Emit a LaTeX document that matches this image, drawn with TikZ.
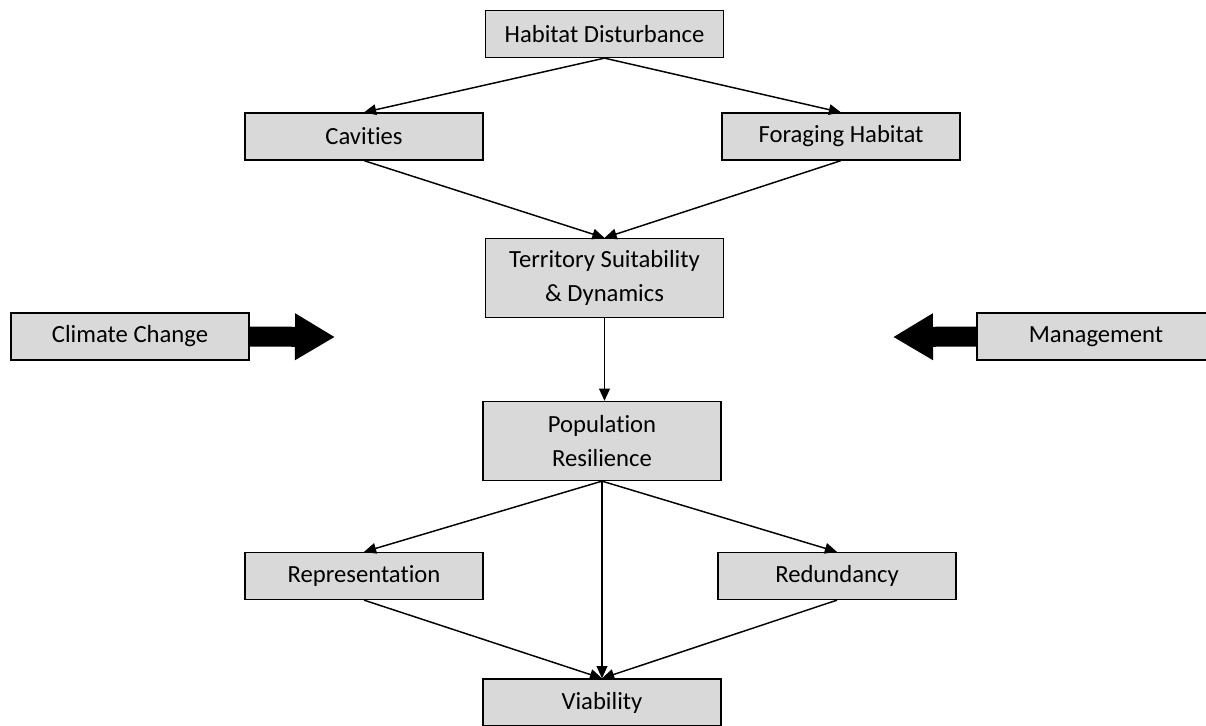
\documentclass[tikz,border=0pt]{standalone}
\usepackage{fontspec}
\setmainfont{Carlito}[Ligatures=NoCommon]
\usetikzlibrary{arrows.meta}

\begin{document}
\begin{tikzpicture}[x=0.75pt,y=-0.75pt,>={Triangle[length=3.2mm,width=2.8mm]},line join=miter]
\tikzset{
  box/.style={draw=black,line width=1.2pt,fill=gray!30,minimum width=178.5pt,minimum height=35pt,align=center,inner sep=2pt,font=\fontsize{18.5}{25}\selectfont},
  tallbox/.style={box,minimum height=59pt},
  link/.style={->,line width=1.1pt},
  blockarrow/.style={-{Triangle[length=30pt,width=33pt]},line width=15pt}
}
\useasboundingbox (0,0) rectangle (1206,725);
\node[box] (hd) at (604.5,34) {Habitat Disturbance};
\node[box] (cav) at (364,136.5) {Cavities};
\node[box] (fh) at (841,136.5) {Foraging Habitat};
\node[tallbox] (ts) at (604.5,278) {Territory Suitability\\\& Dynamics};
\node[box] (cc) at (130,336.5) {Climate Change};
\node[box] (mg) at (1096,336.5) {Management};
\node[tallbox] (pr) at (602,441) {Population\\Resilience};
\node[box] (rep) at (364,576) {Representation};
\node[box] (red) at (837,576) {Redundancy};
\node[box] (via) at (602,702.5) {Viability};
\coordinate (ccTip) at (335,337);
\coordinate (mgTip) at (893,337);
\draw[link] (hd.south) -- (cav.north);
\draw[link] (hd.south) -- (fh.north);
\draw[link] (cav.south) -- (ts.north);
\draw[link] (fh.south) -- (ts.north);
\draw[link] (ts.south) -- (ts.south |- pr.north);
\draw[link] (pr.south) -- (rep.north);
\draw[link] (pr.south) -- (red.north);
\draw[link] (pr.south) -- (via.north);
\draw[link] (rep.south) -- (via.north);
\draw[link] (red.south) -- (via.north);
\draw[blockarrow] (cc.east) -- (ccTip);
\draw[blockarrow] (mg.west) -- (mgTip);
\end{tikzpicture}
\end{document}
